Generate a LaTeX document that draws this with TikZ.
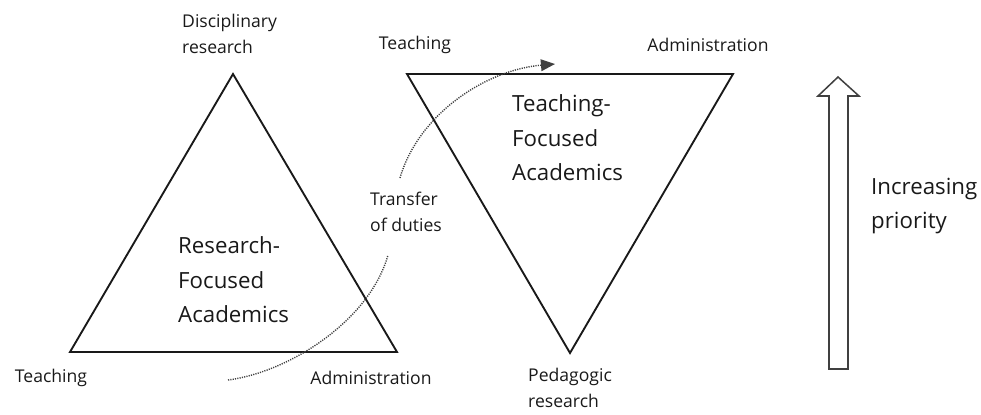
\documentclass[tikz,border=0pt]{standalone}
\usepackage{fontspec}
\setmainfont{Open Sans}
\usetikzlibrary{arrows.meta}

\tikzset{
  edge/.style={line width=1.6pt, black!90},
  small/.style={font=\fontsize{15}{22}\selectfont, text=black!90, inner sep=0pt, align=left},
  large/.style={font=\fontsize{19}{29.5}\selectfont, text=black!90, inner sep=0pt, align=left},
  transferline/.style={line width=1.2pt, black!75, dash pattern=on 1pt off 1pt},
}

\begin{document}
\begin{tikzpicture}[x=0.03cm, y=-0.03cm]
    \useasboundingbox (0, 0) rectangle (981, 414);

    % research triangle
    \coordinate (rtop) at (233, 74);
    \coordinate (rleft) at (70, 352);
    \coordinate (rright) at (397, 352);
    \draw [edge] (rtop) -- (rleft) -- (rright) -- cycle;

    % teaching triangle
    \coordinate (tleft) at (407, 74);
    \coordinate (tright) at (733, 74);
    \coordinate (tbottom) at (570, 353);
    \draw [edge] (tleft) -- (tright) -- (tbottom) -- cycle;

    \node (disc) at (182, 34) [small, anchor = west] {Disciplinary\\research};
    \node (teachtop) at (415, 45) [small] {Teaching};
    \node (admintop) at (708, 45) [small] {Administration};
    \node (teachbot) at (51, 378) [small] {Teaching};
    \node (adminbot) at (371, 378) [small] {Administration};
    \node (pedag) at (528, 388) [small, anchor = west] {Pedagogic\\research};

    \node (resfoc) at (178, 280) [large, anchor = west] {Research-\\Focused\\Academics};
    \node (teachfoc) at (512, 138) [large, anchor = west] {Teaching-\\Focused\\Academics};

    % transfer of duties
    \node (transfer) at (370, 212) [small, anchor = west] {Transfer\\of duties};
    \coordinate (arcstart) at (228, 380);
    \coordinate (arclow) at (388, 255);
    \coordinate (archigh) at (400, 178);
    \coordinate (arcend) at (555, 64);
    \draw [transferline] (arcstart) .. controls (290, 372) and (370, 320) .. (arclow);
    \draw [transferline, -{Triangle[length=12pt, width=10pt]}] (archigh) .. controls (418, 115) and (485, 70) .. (arcend);

    % priority arrow
    \draw [line width=1.3pt, black!75] (838, 77) -- (859, 96) -- (848, 96) -- (848, 369)
        -- (829, 369) -- (829, 96) -- (818, 96) -- cycle;
    \node (prio) at (871, 206) [large, anchor = west] {Increasing\\priority};
\end{tikzpicture}
\end{document}
